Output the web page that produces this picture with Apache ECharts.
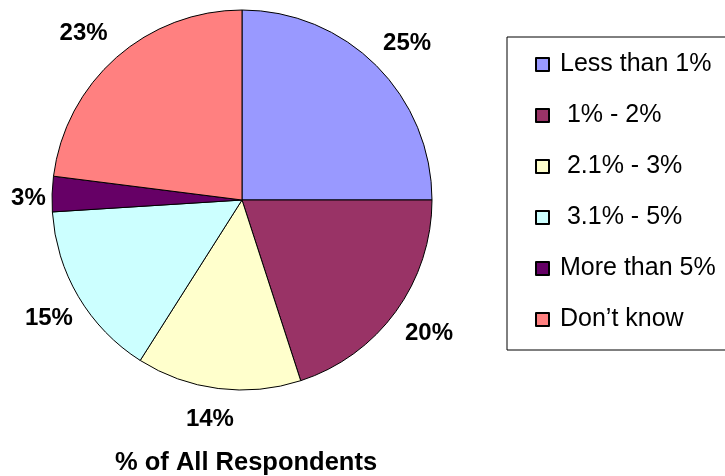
<!DOCTYPE html>
<html>
<head>
<meta charset="utf-8">
<script src="https://cdn.jsdelivr.net/npm/echarts@6/dist/echarts.min.js"></script>
<style>
  html, body { margin: 0; padding: 0; background: #ffffff; }
  #chart { width: 725px; height: 476px; }
</style>
</head>
<body>
<div id="chart"></div>
<script>
// Share of all respondents by answer band
const categories = ['Less than 1%', ' 1% - 2%', ' 2.1% - 3%', ' 3.1% - 5%', 'More than 5%', 'Don\u2019t know'];
const shares = [25, 20, 14, 15, 3, 23];
const sliceColors = ['#9999FF', '#993366', '#FFFFCC', '#CCFFFF', '#660066', '#FF8080'];
const chartTitle = '% of All Respondents';

const FONT = '"Liberation Sans", Arial, sans-serif';
const PIE_CENTER = [242, 200];
const PIE_RADIUS = 190;
const LABEL_GAP = 11; // space between the rim and the nearest edge of a label
// small per-label tweaks (px) applied after the radial placement
const labelNudge = [[5, 4], [3, 0], [-5, 5], [3, 2], [5, 5], [-9, 3]];

const sliceData = categories.map((name, i) => ({
  name: name,
  value: shares[i],
  itemStyle: { color: sliceColors[i] }
}));

// Push each percentage label outward along its slice's mid-angle so that
// the label box sits a fixed gap outside the rim.
function placeOutside(params) {
  const r = params.labelRect;
  const cx = r.x + r.width / 2;
  const cy = r.y + r.height / 2;
  const vx = cx - PIE_CENTER[0];
  const vy = cy - PIE_CENTER[1];
  const len = Math.sqrt(vx * vx + vy * vy) || 1;
  const ux = vx / len;
  const uy = vy / len;
  const half = (r.width / 2) * Math.abs(ux) + (r.height / 2) * Math.abs(uy);
  const dist = PIE_RADIUS + LABEL_GAP + half;
  const nudge = labelNudge[params.dataIndex] || [0, 0];
  return {
    x: PIE_CENTER[0] + ux * dist + nudge[0],
    y: PIE_CENTER[1] + uy * dist + nudge[1],
    align: 'center',
    verticalAlign: 'middle'
  };
}

const chart = echarts.init(document.getElementById('chart'), null, { renderer: 'canvas' });

chart.setOption({
  backgroundColor: '#ffffff',
  animation: false,
  title: {
    text: chartTitle,
    left: 115,
    top: 450,
    padding: 0,
    textStyle: { fontFamily: FONT, fontSize: 25.5, fontWeight: 'bold', color: '#000000' }
  },
  legend: {
    orient: 'vertical',
    left: 507,
    top: 37,
    padding: [15, 40, 18, 28],
    itemGap: 26,
    itemWidth: 13,
    itemHeight: 13,
    icon: 'rect',
    selectedMode: false,
    borderColor: '#000000',
    borderWidth: 1,
    data: categories,
    textStyle: {
      fontFamily: FONT,
      fontSize: 25,
      lineHeight: 25,
      color: '#000000',
      padding: [0, 0, 0, 6]
    }
  },
  series: [
    {
      // the slices
      type: 'pie',
      center: PIE_CENTER,
      radius: [0, PIE_RADIUS],
      startAngle: 90,
      clockwise: true,
      silent: true,
      data: sliceData,
      itemStyle: { borderColor: '#000000', borderWidth: 1 },
      label: { show: false },
      labelLine: { show: false },
      emphasis: { disabled: true }
    },
    {
      // transparent ring carrying the percentage labels outside the pie
      type: 'pie',
      center: PIE_CENTER,
      radius: [PIE_RADIUS + 8, PIE_RADIUS + 62],
      startAngle: 90,
      clockwise: true,
      silent: true,
      data: categories.map((name, i) => ({ name: name, value: shares[i] })),
      itemStyle: { color: 'rgba(0,0,0,0)', borderWidth: 0 },
      label: {
        show: true,
        position: 'inside',
        formatter: '{c}%',
        fontFamily: FONT,
        fontSize: 24,
        fontWeight: 'bold',
        color: '#000000'
      },
      labelLayout: placeOutside,
      labelLine: { show: false },
      emphasis: { disabled: true }
    }
  ]
});
</script>
</body>
</html>
